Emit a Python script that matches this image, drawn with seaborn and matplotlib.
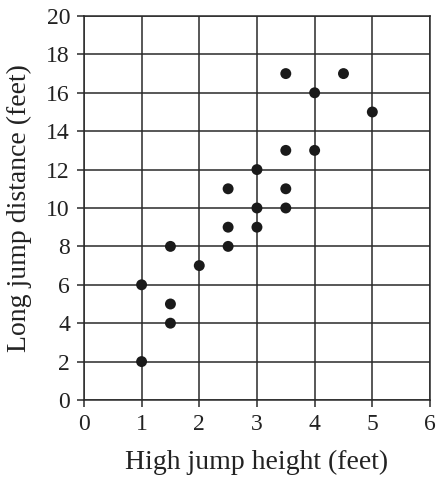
import matplotlib
matplotlib.use("Agg")
import matplotlib.pyplot as plt
import seaborn as sns
import pandas as pd

# data
high_jump = [1, 1, 1.5, 1.5, 1.5, 2, 2.5, 2.5, 2.5, 3, 3, 3, 3.5, 3.5, 3.5, 3.5, 4, 4, 4.5, 5]
long_jump = [2, 6, 4, 5, 8, 7, 8, 9, 11, 9, 10, 12, 10, 11, 13, 17, 13, 16, 17, 15]
x_ticks = [0, 1, 2, 3, 4, 5, 6]
y_ticks = list(range(0, 21, 2))

df = pd.DataFrame({"high": high_jump, "long": long_jump})

sns.set_style("white")
plt.rcParams["font.family"] = ["Liberation Serif", "DejaVu Serif"]

fig = plt.figure(figsize=(4.37, 4.8), dpi=100)
ax = fig.add_axes([0.192, 0.1667, 0.792, 0.8])

sns.scatterplot(data=df, x="high", y="long", ax=ax, color="#1a1a1a",
                s=62, edgecolor="none", zorder=3)

ax.set_xlim(0, 6)
ax.set_ylim(0, 20)
ax.set_xticks(x_ticks)
ax.set_yticks(y_ticks)
ax.grid(True, color="#2a2a2a", linewidth=1.1)
ax.set_axisbelow(True)
for sp in ax.spines.values():
    sp.set_color("#2a2a2a")
    sp.set_linewidth(1.1)
ax.tick_params(direction="out", length=5, width=1.1, color="#2a2a2a",
               labelsize=17, labelcolor="#222222", pad=5, bottom=True, left=True)

ax.set_xlabel("High jump height (feet)", fontsize=20, color="#222222", labelpad=11)
ax.set_ylabel("Long jump distance (feet)", fontsize=20, color="#222222", labelpad=10)

fig.savefig("out.png", dpi=100)
